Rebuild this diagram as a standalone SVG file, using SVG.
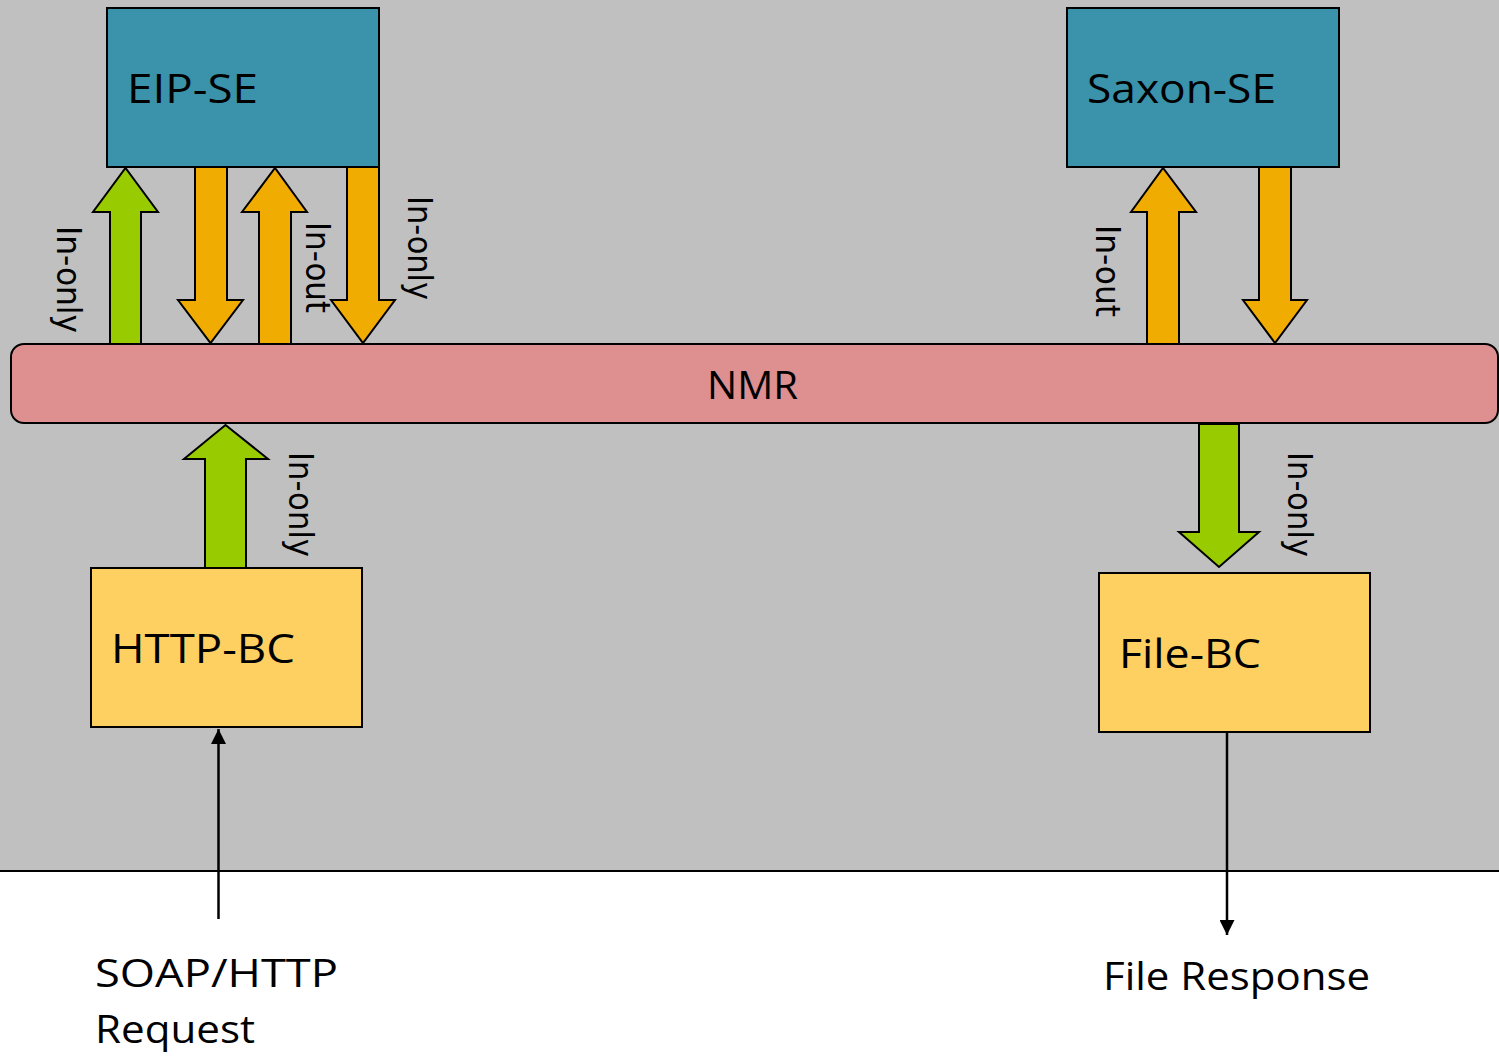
<svg xmlns="http://www.w3.org/2000/svg" width="1499" height="1061" viewBox="0 0 1499 1061">
<defs>
<style>
.box{stroke:#000;stroke-width:2}
.se{fill:#3a93aa}
.bc{fill:#fed062}
.lbl{font-family:"Open Sans","Noto Sans",sans-serif;fill:#000}
.rot{font-family:"DejaVu Sans",sans-serif;font-size:33px;fill:#000}
.green{fill:#99cc00;stroke:#000;stroke-width:2;stroke-linejoin:miter}
.orange{fill:#f0ac00;stroke:#000;stroke-width:2;stroke-linejoin:miter}
.thin{stroke:#000;stroke-width:2.5;fill:none}
</style>
<marker id="ah" viewBox="0 0 10 10" refX="10" refY="5" markerWidth="6" markerHeight="6" markerUnits="strokeWidth" orient="auto">
<path d="M0,0 L10,5 L0,10 Z" fill="#000"/>
</marker>
</defs>
<rect x="0" y="0" width="1499" height="871" fill="#c0c0c0"/>
<line x1="0" y1="871" x2="1499" y2="871" stroke="#000" stroke-width="2"/>

<g id="connectors">
<polygon class="green" points="110,344 110,212 93,212 125.5,168 158,212 141,212 141,344"/>
<polygon class="orange" points="195,167 195,300 178,300 210.5,343 243,300 227,300 227,167"/>
<polygon class="orange" points="259,344 259,212 242,212 275,168 307,212 291,212 291,344"/>
<polygon class="orange" points="347,167 347,300 331,300 363,343 395,300 379,300 379,167"/>
<polygon class="orange" points="1147,344 1147,212 1131,212 1163,168 1196,212 1179,212 1179,344"/>
<polygon class="orange" points="1259,167 1259,300 1243,300 1275,343 1307,300 1291,300 1291,167"/>
<polygon class="green" points="205,568 205,459 184,459 225.5,425 268,459 246,459 246,568"/>
<polygon class="green" points="1199,424 1199,532 1179,532 1219,567 1259,532 1239,532 1239,424"/>
<line class="thin" x1="218.5" y1="919" x2="218.5" y2="729" marker-end="url(#ah)"/>
<line class="thin" x1="1227" y1="729" x2="1227" y2="935" marker-end="url(#ah)"/>
<text class="rot" transform="translate(57,226) rotate(90)" textLength="107" lengthAdjust="spacingAndGlyphs">In-only</text>
<text class="rot" transform="translate(306,222) rotate(90)" textLength="91" lengthAdjust="spacingAndGlyphs">In-out</text>
<text class="rot" transform="translate(408,196) rotate(90)" textLength="104" lengthAdjust="spacingAndGlyphs">In-only</text>
<text class="rot" transform="translate(1096,225) rotate(90)" textLength="92" lengthAdjust="spacingAndGlyphs">In-out</text>
<text class="rot" transform="translate(289,452) rotate(90)" textLength="105" lengthAdjust="spacingAndGlyphs">In-only</text>
<text class="rot" transform="translate(1288,452) rotate(90)" textLength="105" lengthAdjust="spacingAndGlyphs">In-only</text>
</g>

<g id="eip-se">
<rect class="box se" x="107" y="8" width="272" height="159"/>
<text class="lbl" x="127" y="103" font-size="41" textLength="131" lengthAdjust="spacingAndGlyphs">EIP-SE</text>
</g>
<g id="saxon-se">
<rect class="box se" x="1067" y="8" width="272" height="159"/>
<text class="lbl" x="1087" y="103" font-size="41" textLength="189" lengthAdjust="spacingAndGlyphs">Saxon-SE</text>
</g>
<g id="nmr">
<rect class="box" x="11" y="344" width="1487" height="79" rx="13" fill="#de8f8f"/>
<text class="lbl" x="707" y="399" font-size="39" textLength="91" lengthAdjust="spacingAndGlyphs">NMR</text>
</g>
<g id="http-bc">
<rect class="box bc" x="91" y="568" width="271" height="159"/>
<text class="lbl" x="111" y="663" font-size="41" textLength="184" lengthAdjust="spacingAndGlyphs">HTTP-BC</text>
</g>
<g id="file-bc">
<rect class="box bc" x="1099" y="573" width="271" height="159"/>
<text class="lbl" x="1119" y="668" font-size="41" textLength="142" lengthAdjust="spacingAndGlyphs">File-BC</text>
</g>
<g id="soap-label">
<text class="lbl" x="95" y="987" font-size="39" textLength="243" lengthAdjust="spacingAndGlyphs">SOAP/HTTP</text>
<text class="lbl" x="95" y="1043" font-size="39" textLength="160" lengthAdjust="spacingAndGlyphs">Request</text>
</g>
<g id="file-response-label">
<text class="lbl" x="1103" y="990" font-size="39" textLength="267" lengthAdjust="spacingAndGlyphs">File Response</text>
</g>
</svg>
